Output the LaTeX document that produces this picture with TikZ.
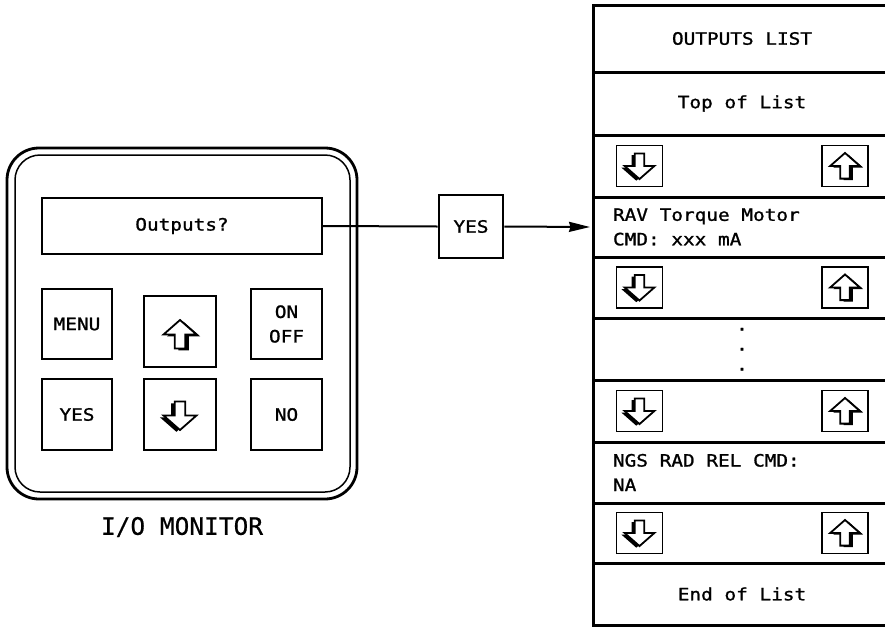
\documentclass[tikz,border=0pt]{standalone}
\usepackage{fontspec}
\newfontfamily\lblfont[FakeStretch=1.14,FakeBold=1.2]{DejaVu Sans Mono}
\newfontfamily\bigfont[FakeStretch=1.02,FakeBold=0.6]{DejaVu Sans Mono}
\newcommand\lblsetup{\fontsize{17}{24.5}\lblfont}
\newcommand\bigsetup{\fontsize{24}{28}\bigfont}
\newcommand\ws{\hspace*{11.7pt}}
\usetikzlibrary{arrows.meta}
\tikzset{
  uparr/.pic={
    \begin{scope}[shift={(3.6,1.8)}]
      \fill[black] (0,-14.5) -- (16.5,0) -- (5.2,0) -- (5.2,14) -- (-5.2,14) -- (-5.2,0) -- (-16.5,0) -- cycle;
    \end{scope}
    \filldraw[fill=white,line width=1.8pt,line join=miter] (0,-14.5) -- (16.5,0) -- (5.2,0) -- (5.2,14) -- (-5.2,14) -- (-5.2,0) -- (-16.5,0) -- cycle;
  },
  downarr/.pic={
    \begin{scope}[shift={(-3.6,1.8)}]
      \fill[black] (0,14.5) -- (16.5,0) -- (5.2,0) -- (5.2,-14) -- (-5.2,-14) -- (-5.2,0) -- (-16.5,0) -- cycle;
    \end{scope}
    \filldraw[fill=white,line width=1.8pt,line join=miter] (0,14.5) -- (16.5,0) -- (5.2,0) -- (5.2,-14) -- (-5.2,-14) -- (-5.2,0) -- (-16.5,0) -- cycle;
  }
}
\begin{document}
\begin{tikzpicture}[x=1pt,y=-1pt,
  lbl/.style={font=\lblsetup},
  keybox/.style={draw,line width=1.3pt,inner sep=0pt,lbl,align=center},
  frame/.style={draw,inner sep=0pt},
  listrow/.style={draw,line width=3pt,minimum width=298pt,inner xsep=20pt,inner ysep=0pt,text width=258pt,lbl},
  smallbox/.style={draw,line width=1.5pt,minimum width=46pt,minimum height=41pt,inner sep=0pt},
  conn/.style={line width=2pt}
]
\useasboundingbox (0,0) rectangle (885,627);
\clip (0,0) rectangle (885,627);
\fill[white] (0,0) rectangle (885,627);

% I/O monitor
\node[frame,line width=2.8pt,rounded corners=32pt,minimum width=350pt,minimum height=351pt] (outer) at (182,323.5) {};
\node[frame,line width=1.5pt,rounded corners=25pt,minimum width=335pt,minimum height=337pt] (inner) at (182.5,323.5) {};
\node[keybox,minimum width=280pt,minimum height=56pt] (disp) at (182,226) {Outputs?};
\node[keybox,minimum width=70pt,minimum height=70pt] (menu) at (77,324) {MENU};
\node[keybox,minimum width=72pt,minimum height=71pt] (upkey) at (180,331.5) {};
\node[keybox,minimum width=71pt,minimum height=70pt] (onoff) at (286.5,324) {ON\\OFF};
\node[keybox,minimum width=70pt,minimum height=71pt] (yeskey) at (77,414.5) {YES};
\node[keybox,minimum width=72pt,minimum height=71pt] (downkey) at (180,414.5) {};
\node[keybox,minimum width=71pt,minimum height=71pt] (nokey) at (286.5,414.5) {NO};
\pic at ([yshift=-3pt]upkey.center) {uparr};
\pic at ([yshift=-1pt]downkey.center) {downarr};
\node[font=\bigsetup] (montitle) at (182,527) {I/O MONITOR};

% YES box
\node[draw,line width=2.8pt,inner sep=0pt,lbl,minimum width=64pt,minimum height=63pt] (yesbox) at (471,226.5) {YES};

% Outputs list
\node[listrow,minimum height=67pt,align=center] (title) at (742,38.5) {OUTPUTS\ws LIST};
\node[listrow,minimum height=63pt,align=center] (top) at (742,103.5) {Top\ws of\ws List};
\node[listrow,minimum height=62pt] (a1) at (742,166) {};
\node[listrow,minimum height=60pt,align=left] (rav) at (742,227) {RAV\ws Torque\ws Motor\\CMD:\ws xxx\ws mA};
\node[listrow,minimum height=61pt] (a2) at (742,287.5) {};
\node[listrow,minimum height=62pt] (dots) at (742,349) {};
\node[listrow,minimum height=62pt] (a3) at (742,411) {};
\node[listrow,minimum height=61pt,align=left] (ngs) at (742,472.5) {NGS\ws RAD\ws REL\ws CMD:\\NA};
\node[listrow,minimum height=60pt] (a4) at (742,533) {};
\node[listrow,minimum height=62pt,align=center] (endl) at (742,594) {End\ws of\ws List};

\foreach \i/\d in {1/18.5,2/-1.5,3/-21.5}
  \node[lbl,anchor=base,inner sep=0pt] (dot\i) at ([yshift=\d pt]dots.center) {.};

\foreach \r in {a1,a2,a3,a4}{
  \node[smallbox] (\r d) at (639.5,0 |- \r.center) {};
  \node[smallbox] (\r u) at (845,0 |- \r.center) {};
  \pic[scale=0.9] at (\r d.center) {downarr};
  \pic[scale=0.9] at (\r u.center) {uparr};
}

% connectors
\draw[conn] (disp.east) -- (yesbox.west);
\draw[conn,-{Stealth[length=21pt,width=10pt,inset=1.5pt]},shorten >=1.5pt] (yesbox.east) -- (rav.west);
\end{tikzpicture}
\end{document}
